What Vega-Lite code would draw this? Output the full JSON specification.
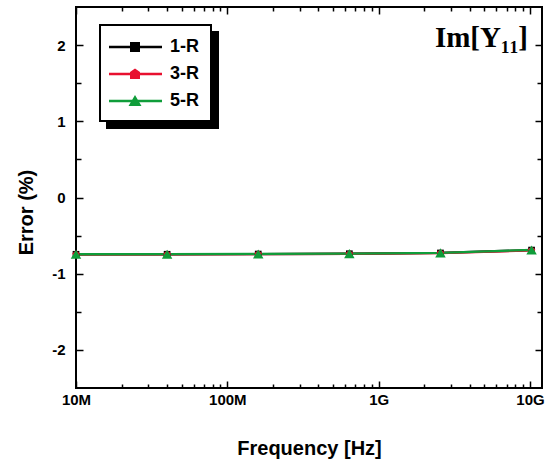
{
  "$schema": "https://vega.github.io/schema/vega-lite/v6.json",
  "width": 466,
  "height": 381,
  "autosize": {"type": "none"},
  "padding": {"left": 76, "top": 7, "right": 11, "bottom": 71},
  "background": "white",
  "config": {
    "font": "Liberation Sans",
    "axis": {
      "labelFont": "Liberation Sans", "labelFontWeight": "bold", "labelFontSize": 15, "labelColor": "black",
      "titleFont": "Liberation Sans", "titleFontWeight": "bold", "titleFontSize": 20, "titleColor": "black",
      "tickColor": "black", "tickWidth": 1.5, "grid": false, "domain": false
    },
    "view": {"stroke": "black", "strokeWidth": 2}
  },
  "title": {
    "text": "Im[Y₁₁]", "orient": "top", "anchor": "end", "frame": "group",
    "font": "Liberation Serif", "fontSize": 29, "fontWeight": "bold", "color": "black",
    "baseline": "alphabetic", "offset": -70, "dx": -14
  },
  "data": {
    "values": [
      {"freq": 10000000, "err": -0.745, "series": "1-R"},
      {"freq": 40000000, "err": -0.745, "series": "1-R"},
      {"freq": 160000000, "err": -0.742, "series": "1-R"},
      {"freq": 640000000, "err": -0.738, "series": "1-R"},
      {"freq": 2560000000, "err": -0.728, "series": "1-R"},
      {"freq": 10240000000, "err": -0.690, "series": "1-R"},
      {"freq": 10000000, "err": -0.748, "series": "3-R"},
      {"freq": 40000000, "err": -0.747, "series": "3-R"},
      {"freq": 160000000, "err": -0.744, "series": "3-R"},
      {"freq": 640000000, "err": -0.740, "series": "3-R"},
      {"freq": 2560000000, "err": -0.730, "series": "3-R"},
      {"freq": 10240000000, "err": -0.695, "series": "3-R"},
      {"freq": 10000000, "err": -0.745, "series": "5-R"},
      {"freq": 40000000, "err": -0.744, "series": "5-R"},
      {"freq": 160000000, "err": -0.741, "series": "5-R"},
      {"freq": 640000000, "err": -0.737, "series": "5-R"},
      {"freq": 2560000000, "err": -0.727, "series": "5-R"},
      {"freq": 10240000000, "err": -0.688, "series": "5-R"}
    ]
  },
  "layer": [
    {
      "mark": {"type": "line", "strokeWidth": 2.3},
      "encoding": {
        "x": {
          "field": "freq", "type": "quantitative",
          "scale": {"type": "log", "domain": [10000000, 12000000000], "nice": false},
          "axis": {
            "orient": "bottom", "title": "Frequency [Hz]",
            "values": [10000000, 20000000, 30000000, 40000000, 50000000, 60000000, 70000000, 80000000, 90000000, 100000000, 200000000, 300000000, 400000000, 500000000, 600000000, 700000000, 800000000, 900000000, 1000000000, 2000000000, 3000000000, 4000000000, 5000000000, 6000000000, 7000000000, 8000000000, 9000000000, 10000000000],
            "labelExpr": "datum.value==1e7?'10M':datum.value==1e8?'100M':datum.value==1e9?'1G':datum.value==1e10?'10G':''",
            "tickSize": {"condition": {"test": "datum.value==1e7||datum.value==1e8||datum.value==1e9||datum.value==1e10", "value": -7}, "value": -4},
            "labelPadding": 11, "labelOverlap": false, "labelFlush": false,
            "titleY": 50
          }
        },
        "y": {
          "field": "err", "type": "quantitative",
          "scale": {"domain": [-2.5, 2.5], "nice": false, "zero": false},
          "axis": {
            "orient": "left", "title": "Error (%)",
            "values": [-2, -1.5, -1, -0.5, 0, 0.5, 1, 1.5, 2],
            "labelExpr": "datum.value==2?'2':datum.value==1?'1':datum.value==0?'0':datum.value==-1?'-1':datum.value==-2?'-2':''",
            "tickSize": {"condition": {"test": "datum.value%1==0", "value": -7}, "value": -5},
            "labelPadding": 18, "labelOverlap": false, "labelFlush": false,
            "titleX": -40, "titleY": 205
          }
        },
        "color": {
          "field": "series", "type": "nominal",
          "scale": {"domain": ["1-R", "3-R", "5-R"], "range": ["black", "#e8102f", "#0f9d3a"]},
          "legend": null
        }
      }
    },
    {
      "mark": {"type": "point", "filled": true, "opacity": 1},
      "encoding": {
        "x": {
          "field": "freq", "type": "quantitative",
          "axis": {
            "orient": "top", "title": null, "labels": false,
            "values": [10000000, 20000000, 30000000, 40000000, 50000000, 60000000, 70000000, 80000000, 90000000, 100000000, 200000000, 300000000, 400000000, 500000000, 600000000, 700000000, 800000000, 900000000, 1000000000, 2000000000, 3000000000, 4000000000, 5000000000, 6000000000, 7000000000, 8000000000, 9000000000, 10000000000],
            "tickSize": {"condition": {"test": "datum.value==1e7||datum.value==1e8||datum.value==1e9||datum.value==1e10", "value": -7}, "value": -4}
          }
        },
        "y": {
          "field": "err", "type": "quantitative",
          "axis": {
            "orient": "right", "title": null, "labels": false,
            "values": [-2, -1.5, -1, -0.5, 0, 0.5, 1, 1.5, 2],
            "tickSize": {"condition": {"test": "datum.value%1==0", "value": -7}, "value": -5}
          }
        },
        "color": {
          "field": "series", "type": "nominal",
          "scale": {"domain": ["1-R", "3-R", "5-R"], "range": ["black", "#e8102f", "#0f9d3a"]},
          "legend": null
        },
        "shape": {
          "field": "series", "type": "nominal",
          "scale": {"domain": ["1-R", "3-R", "5-R"], "range": ["square", "M0,-1L0.951,-0.309L0.588,0.809L-0.588,0.809L-0.951,-0.309Z", "triangle-up"]},
          "legend": null
        },
        "size": {
          "field": "series", "type": "nominal",
          "scale": {"type": "ordinal", "domain": ["1-R", "3-R", "5-R"], "range": [45, 60, 110]},
          "legend": null
        },
        "order": {"field": "series", "sort": "ascending"}
      }
    },
    {
      "transform": [{"filter": "false"}],
      "mark": {"type": "point", "filled": true, "opacity": 1},
      "encoding": {
        "color": {
          "field": "series", "type": "nominal",
          "scale": {"domain": ["1-R", "3-R", "5-R"], "range": ["black", "black", "black"]},
          "legend": {
            "orient": "none", "legendX": 31, "legendY": 25, "title": null,
            "padding": 11, "rowPadding": 7, "symbolSize": 400, "labelOffset": 37, "symbolOpacity": 1,
            "labelFont": "Liberation Sans", "labelFontWeight": "bold", "labelFontSize": 18, "labelColor": "black",
            "fillColor": "black", "strokeColor": "black",
            "encode": {"legend": {"update": {"strokeWidth": {"value": 2}}}}
          }
        },
        "shape": {
          "field": "series", "type": "nominal",
          "scale": {"domain": ["1-R", "3-R", "5-R"], "range": [
            "M-1.3,-0.12H4V0.12H-1.3Z M0.8,-0.5H1.8V0.5H0.8Z",
            "M-1.3,-0.12H4V0.12H-1.3Z M0.8,-0.2L1.3,-0.55L1.8,-0.2V0.5H0.8Z",
            "M-1.3,-0.12H4V0.12H-1.3Z M1.3,-0.6L1.95,0.5H0.65Z"]},
          "legend": {
            "orient": "none", "legendX": 31, "legendY": 25, "title": null,
            "padding": 11, "rowPadding": 7, "symbolSize": 400, "labelOffset": 37, "symbolOpacity": 1,
            "labelFont": "Liberation Sans", "labelFontWeight": "bold", "labelFontSize": 18, "labelColor": "black",
            "fillColor": "black", "strokeColor": "black",
            "encode": {"legend": {"update": {"strokeWidth": {"value": 2}}}}
          }
        }
      }
    },
    {
      "transform": [{"filter": "false"}],
      "mark": {"type": "point", "filled": true, "opacity": 1},
      "encoding": {
        "color": {
          "field": "series", "type": "nominal",
          "scale": {"domain": ["1-R", "3-R", "5-R"], "range": ["black", "#e8102f", "#0f9d3a"]},
          "legend": {
            "orient": "none", "legendX": 24, "legendY": 18, "title": null,
            "padding": 11, "rowPadding": 7, "symbolSize": 400, "labelOffset": 37, "symbolOpacity": 1,
            "labelFont": "Liberation Sans", "labelFontWeight": "bold", "labelFontSize": 18, "labelColor": "black",
            "fillColor": "white", "strokeColor": "black",
            "encode": {"legend": {"update": {"strokeWidth": {"value": 2}}}}
          }
        },
        "shape": {
          "field": "series", "type": "nominal",
          "scale": {"domain": ["1-R", "3-R", "5-R"], "range": [
            "M-1.3,-0.12H4V0.12H-1.3Z M0.8,-0.5H1.8V0.5H0.8Z",
            "M-1.3,-0.12H4V0.12H-1.3Z M0.8,-0.2L1.3,-0.55L1.8,-0.2V0.5H0.8Z",
            "M-1.3,-0.12H4V0.12H-1.3Z M1.3,-0.6L1.95,0.5H0.65Z"]},
          "legend": {
            "orient": "none", "legendX": 24, "legendY": 18, "title": null,
            "padding": 11, "rowPadding": 7, "symbolSize": 400, "labelOffset": 37, "symbolOpacity": 1,
            "labelFont": "Liberation Sans", "labelFontWeight": "bold", "labelFontSize": 18, "labelColor": "black",
            "fillColor": "white", "strokeColor": "black",
            "encode": {"legend": {"update": {"strokeWidth": {"value": 2}}}}
          }
        }
      }
    }
  ],
  "resolve": {
    "axis": {"x": "independent", "y": "independent"},
    "scale": {"shape": "independent", "color": "independent", "size": "independent"},
    "legend": {"shape": "independent", "color": "independent", "size": "independent"}
  }
}
